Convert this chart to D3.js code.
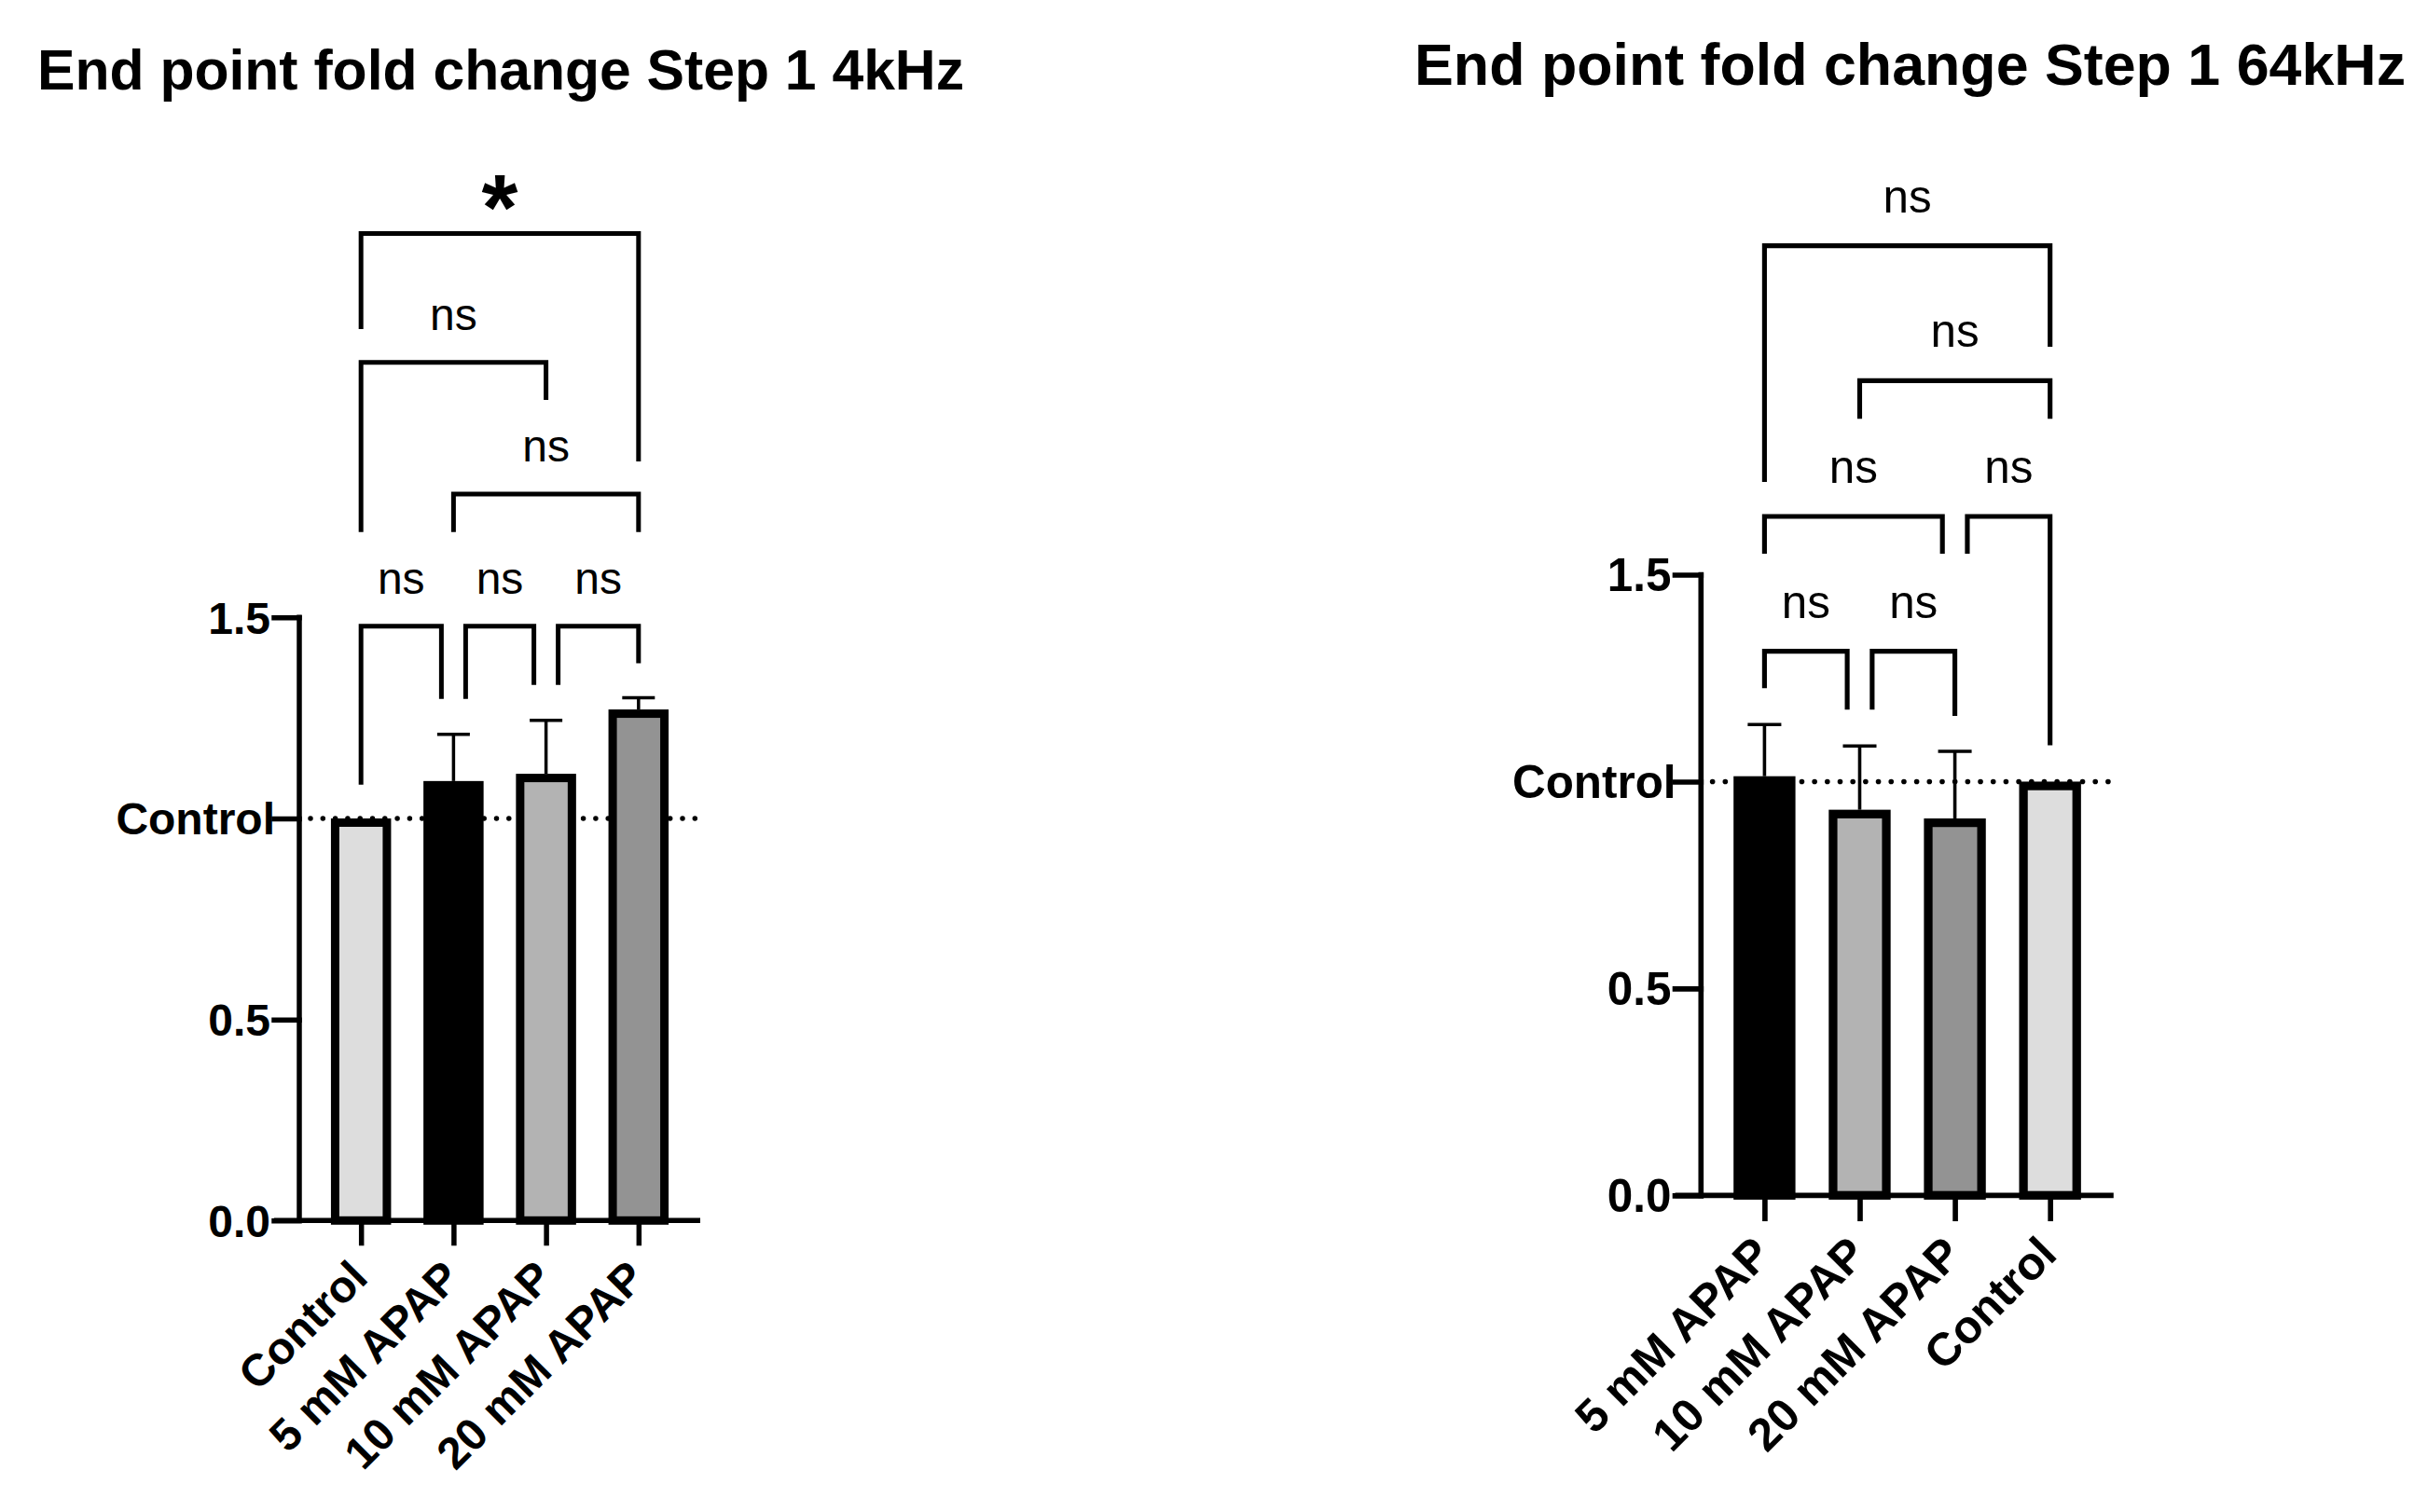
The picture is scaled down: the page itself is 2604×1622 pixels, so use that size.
<!DOCTYPE html>
<html><head><meta charset="utf-8">
<script src="https://cdn.jsdelivr.net/npm/d3@7"></script>
<style>body{margin:0;background:#fff} svg{display:block}</style>
</head><body>
<script>
// ---------- data ----------
const yTickValues = [0, 0.5, 1.0, 1.5];
const yTickLabels = ["0.0", "0.5", "Control", "1.5"];

const categories4k = ["Control", "5 mM APAP", "10 mM APAP", "20 mM APAP"];
const means4k      = [1.000, 1.093, 1.111, 1.271];
const sem4k        = [0.000, 0.116, 0.133, 0.029];

const categories64k = ["5 mM APAP", "10 mM APAP", "20 mM APAP", "Control"];
const means64k      = [1.013, 0.932, 0.911, 1.000];
const sem64k        = [0.125, 0.154, 0.162, 0.000];

const fillByCategory = {"Control": "#dddddd", "5 mM APAP": "#000000", "10 mM APAP": "#b3b3b3", "20 mM APAP": "#939393"};

// comparisons: [groupA, groupB, bar height, left leg end, right leg end, label, legShiftA, legShiftB]
const comparisons4k = [
  ["Control", "5 mM APAP", 1.478, 1.084, 1.297, "ns", 0, -1],
  ["5 mM APAP", "10 mM APAP", 1.478, 1.297, 1.332, "ns", 1, -1],
  ["10 mM APAP", "20 mM APAP", 1.478, 1.332, 1.386, "ns", 1, 0],
  ["5 mM APAP", "20 mM APAP", 1.807, 1.712, 1.712, "ns", 0, 0],
  ["Control", "10 mM APAP", 2.134, 1.712, 2.041, "ns", 0, 0],
  ["Control", "20 mM APAP", 2.455, 2.217, 1.888, "*", 0, 0]
];
const comparisons64k = [
  ["5 mM APAP", "10 mM APAP", 1.315, 1.226, 1.174, "ns", 0, -1],
  ["10 mM APAP", "20 mM APAP", 1.315, 1.174, 1.159, "ns", 1, 0],
  ["5 mM APAP", "20 mM APAP", 1.641, 1.551, 1.551, "ns", 0, -1],
  ["20 mM APAP", "Control", 1.641, 1.551, 1.088, "ns", 1, 0],
  ["10 mM APAP", "Control", 1.969, 1.877, 1.877, "ns", 0, 0],
  ["5 mM APAP", "Control", 2.295, 1.724, 2.051, "ns", 0, 0]
];

const title4k = "End point fold change Step 1 4kHz";
const title64k = "End point fold change Step 1 64kHz";

// ---------- drawing ----------
const W = 2604, H = 1622;
const FONT = "'Liberation Sans', Arial, Helvetica, sans-serif";
const svg = d3.select("body").append("svg").attr("width", W).attr("height", H);
svg.append("rect").attr("width", W).attr("height", H).attr("fill", "#fff");

function drawPanel(cfg) {
  const s = cfg.s;
  const g = svg.append("g");
  const axisW = 430 * s, axisH = 647 * s, tickLen = 27 * s, axisSW = 5.5 * s;

  const x = d3.scalePoint().domain(cfg.cats).range([cfg.axisX, cfg.axisX + axisW]).padding(0.667);
  const y = d3.scaleLinear().domain([0, 1.5]).range([cfg.y0, cfg.y0 - axisH]);

  // title
  g.append("text").attr("x", cfg.titleX).attr("y", cfg.titleY)
    .attr("font-family", FONT).attr("font-weight", "bold").attr("font-size", 62 * s)
    .attr("textLength", cfg.titleLen).attr("lengthAdjust", "spacingAndGlyphs")
    .attr("fill", "#000").text(cfg.title);

  // dotted control line
  g.append("line")
    .attr("x1", cfg.axisX + 12 * s).attr("x2", cfg.axisX + axisW)
    .attr("y1", y(1)).attr("y2", y(1))
    .attr("stroke", "#000").attr("stroke-width", 5.5 * s)
    .attr("stroke-linecap", "round").attr("stroke-dasharray", `0 ${13.3 * s}`);

  const data = cfg.cats.map((c, i) => ({c, m: cfg.means[i], e: cfg.sems[i]}));

  // error bars (upper only)
  const capW = 35 * s;
  const eb = g.append("g").attr("stroke", "#000").attr("stroke-width", 3.5 * s).attr("fill", "none");
  data.filter(d => d.e > 0).forEach(d => {
    eb.append("line").attr("x1", x(d.c)).attr("x2", x(d.c)).attr("y1", y(d.m)).attr("y2", y(d.m + d.e));
    eb.append("line").attr("x1", x(d.c) - capW / 2).attr("x2", x(d.c) + capW / 2)
      .attr("y1", y(d.m + d.e)).attr("y2", y(d.m + d.e));
  });

  // bars
  const bw = 64.5 * s, sw = 9 * s;
  g.append("g").selectAll("rect").data(data).join("rect")
    .attr("x", d => x(d.c) - bw / 2 + sw / 2)
    .attr("y", d => y(d.m) + sw / 2)
    .attr("width", bw - sw)
    .attr("height", d => cfg.y0 - y(d.m) - sw / 2)
    .attr("fill", d => fillByCategory[d.c])
    .attr("stroke", "#000").attr("stroke-width", sw);

  // y axis
  const yAxis = d3.axisLeft(y).tickValues(yTickValues)
    .tickFormat((v, i) => yTickLabels[i]).tickSize(tickLen).tickSizeOuter(0).tickPadding(4 * s);
  const ya = g.append("g").attr("transform", `translate(${cfg.axisX},0)`).call(yAxis);
  ya.selectAll("path,line").attr("stroke", "#000").attr("stroke-width", axisSW).attr("stroke-linecap", "square");
  ya.select(".domain").attr("d", `M0,${cfg.y0}V${y(1.5)}`);
  ya.selectAll("text").attr("font-family", FONT).attr("font-weight", "bold")
    .attr("font-size", 48 * s).attr("fill", "#000")
    .attr("x", (v, i) => isNaN(+yTickLabels[i]) ? -tickLen + 1 * s : -tickLen - 4 * s)
    .attr("dy", "0.35em");

  // x axis
  const xAxis = d3.axisBottom(x).tickSize(tickLen).tickSizeOuter(0);
  const xa = g.append("g").attr("transform", `translate(0,${cfg.y0})`).call(xAxis);
  xa.select(".domain").attr("d", `M${cfg.axisX - tickLen},0H${cfg.axisX + axisW}`);
  xa.selectAll("path,line").attr("stroke", "#000").attr("stroke-width", axisSW).attr("stroke-linecap", "butt");
  xa.selectAll("text").attr("font-family", FONT).attr("font-weight", "bold")
    .attr("font-size", 48 * s).attr("fill", "#000")
    .attr("x", 0).attr("y", 0).attr("dy", "0.35em")
    .attr("text-anchor", "end")
    .attr("transform", `translate(${-3 * s},${tickLen + 25 * s}) rotate(-45)`);

  // significance brackets
  const gap = 13 * s;
  const br = g.append("g");
  cfg.comps.forEach(cp => {
    const [a, b, top, lb, rb, lab, sa, sb] = cp;
    const xa1 = x(a) + sa * gap, xb1 = x(b) + sb * gap;
    br.append("path")
      .attr("d", `M${xa1},${y(lb)}V${y(top)}H${xb1}V${y(rb)}`)
      .attr("fill", "none").attr("stroke", "#000").attr("stroke-width", 5 * s)
      .attr("stroke-linejoin", "miter").attr("stroke-linecap", "butt");
    const cx = (xa1 + xb1) / 2;
    if (lab === "*") {
      br.append("text").attr("x", cx).attr("y", y(top) - 55 * s).attr("dy", "0.62em")
        .attr("text-anchor", "middle").attr("font-family", FONT).attr("font-weight", "bold")
        .attr("font-size", 100 * s).attr("fill", "#000").text(lab);
    } else {
      br.append("text").attr("x", cx).attr("y", y(top) - 35 * s)
        .attr("text-anchor", "middle").attr("font-family", FONT)
        .attr("font-size", 48 * s).attr("fill", "#000").text(lab);
    }
  });
}

drawPanel({title: title4k, titleX: 40, titleY: 96, titleLen: 994, axisX: 321, y0: 1309.3, s: 1.0,
  cats: categories4k, means: means4k, sems: sem4k, comps: comparisons4k});
drawPanel({title: title64k, titleX: 1517, titleY: 91, titleLen: 1063, axisX: 1824.3, y0: 1282.3, s: 1.029,
  cats: categories64k, means: means64k, sems: sem64k, comps: comparisons64k});
</script>
</body></html>
